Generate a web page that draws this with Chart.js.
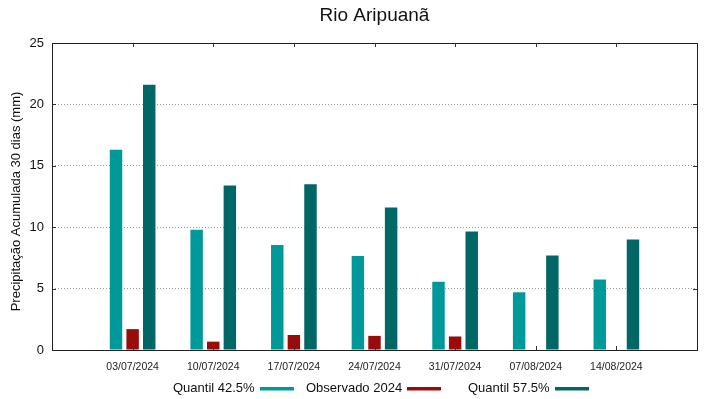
<!DOCTYPE html>
<html>
<head>
<meta charset="utf-8">
<script src="https://cdn.jsdelivr.net/npm/chart.js@4/dist/chart.umd.min.js"></script>
<style>
  body { margin: 0; background: #fff; }
  #wrap { width: 719px; height: 399px; }
</style>
</head>
<body>
<div id="wrap"><canvas id="chart" width="719" height="399"></canvas></div>
<script>
const categories = ['03/07/2024', '10/07/2024', '17/07/2024', '24/07/2024', '31/07/2024', '07/08/2024', '14/08/2024'];
const quantil425 = [16.3, 9.8, 8.55, 7.65, 5.55, 4.7, 5.75];
const observado2024 = [1.7, 0.68, 1.22, 1.15, 1.1, null, null];
const quantil575 = [21.6, 13.4, 13.5, 11.6, 9.65, 7.7, 9.0];
const yTicks = [0, 5, 10, 15, 20, 25];

const titleText = 'Rio Aripuanã';
const yTitleText = 'Precipitação Acumulada 30 dias (mm)';

const FONT = '"Liberation Sans", Arial, sans-serif';

// gnuplot style: one empty slot on each side of the categories
const labels = [''].concat(categories, ['']);
const pad = arr => [null].concat(arr, [null]);

// title, y title, frame, inside tick marks and the legend (text first, sample after)
const gnuplotBits = {
    id: 'gnuplotBits',
    afterDraw(chart) {
        const ctx = chart.ctx;
        const a = chart.chartArea;
        const xs = chart.scales.x;
        const ys = chart.scales.y;

        ctx.save();
        ctx.fillStyle = '#111';
        ctx.textAlign = 'center';
        ctx.textBaseline = 'middle';
        ctx.font = '19px ' + FONT;
        ctx.fillText(titleText, (a.left + a.right) / 2, 16);

        ctx.save();
        ctx.translate(16, (a.top + a.bottom) / 2 + 5);
        ctx.rotate(-Math.PI / 2);
        ctx.font = '13px ' + FONT;
        ctx.fillText(yTitleText, 0, 0);
        ctx.restore();

        ctx.strokeStyle = '#333';
        ctx.lineWidth = 1;
        ctx.beginPath();
        for (let i = 1; i <= categories.length; i++) {
            const x = Math.round(xs.getPixelForTick(i)) + 0.5;
            ctx.moveTo(x, a.bottom); ctx.lineTo(x, a.bottom - 4);
            ctx.moveTo(x, a.top); ctx.lineTo(x, a.top + 4);
        }
        yTicks.forEach(v => {
            const y = Math.round(ys.getPixelForValue(v)) + 0.5;
            ctx.moveTo(a.left, y); ctx.lineTo(a.left + 4, y);
            ctx.moveTo(a.right, y); ctx.lineTo(a.right - 4, y);
        });
        ctx.stroke();

        ctx.strokeStyle = '#222';
        ctx.strokeRect(Math.round(a.left) + 0.5, Math.round(a.top) + 0.5,
            Math.round(a.right - a.left), Math.round(a.bottom - a.top));

        const textX = [173, 306, 468];
        const boxX = [260, 407, 555];
        ctx.font = '13px ' + FONT;
        ctx.textAlign = 'left';
        chart.data.datasets.forEach((ds, i) => {
            ctx.fillStyle = '#111';
            ctx.fillText(ds.label, textX[i], 388.5);
            ctx.fillStyle = ds.backgroundColor;
            ctx.fillRect(boxX[i], 387, 34, 3.5);
        });
        ctx.restore();
    }
};

new Chart(document.getElementById('chart'), {
    type: 'bar',
    data: {
        labels: labels,
        datasets: [
            { label: 'Quantil 42.5%', data: pad(quantil425), backgroundColor: 'rgb(0,153,153)' },
            { label: 'Observado 2024', data: pad(observado2024), backgroundColor: 'rgb(153,12,12)' },
            { label: 'Quantil 57.5%', data: pad(quantil575), backgroundColor: 'rgb(0,102,102)' }
        ]
    },
    options: {
        responsive: false,
        animation: false,
        categoryPercentage: 0.618,
        barPercentage: 0.75,
        layout: { padding: { top: 43, right: 22, left: 0, bottom: 0 } },
        plugins: {
            legend: { display: false },
            tooltip: { enabled: false },
            title: { display: false }
        },
        scales: {
            x: {
                offset: false,
                grid: { display: false, drawTicks: false },
                border: { display: false },
                ticks: {
                    color: '#222',
                    font: { family: FONT, size: 10.5 },
                    maxRotation: 0,
                    autoSkip: false,
                    padding: 11
                },
                afterFit: s => { s.height = 49; }
            },
            y: {
                min: 0,
                max: 25,
                grid: {
                    drawTicks: false,
                    color: c => (c.tick.value === 0 || c.tick.value === 25) ? 'rgba(0,0,0,0)' : '#9a9a9a',
                    lineWidth: 1
                },
                border: { display: false, dash: [1, 2] },
                ticks: {
                    stepSize: 5,
                    color: '#111',
                    font: { family: FONT, size: 13 },
                    padding: 8
                },
                afterFit: s => { s.width = 52; }
            }
        }
    },
    plugins: [gnuplotBits]
});
</script>
</body>
</html>
